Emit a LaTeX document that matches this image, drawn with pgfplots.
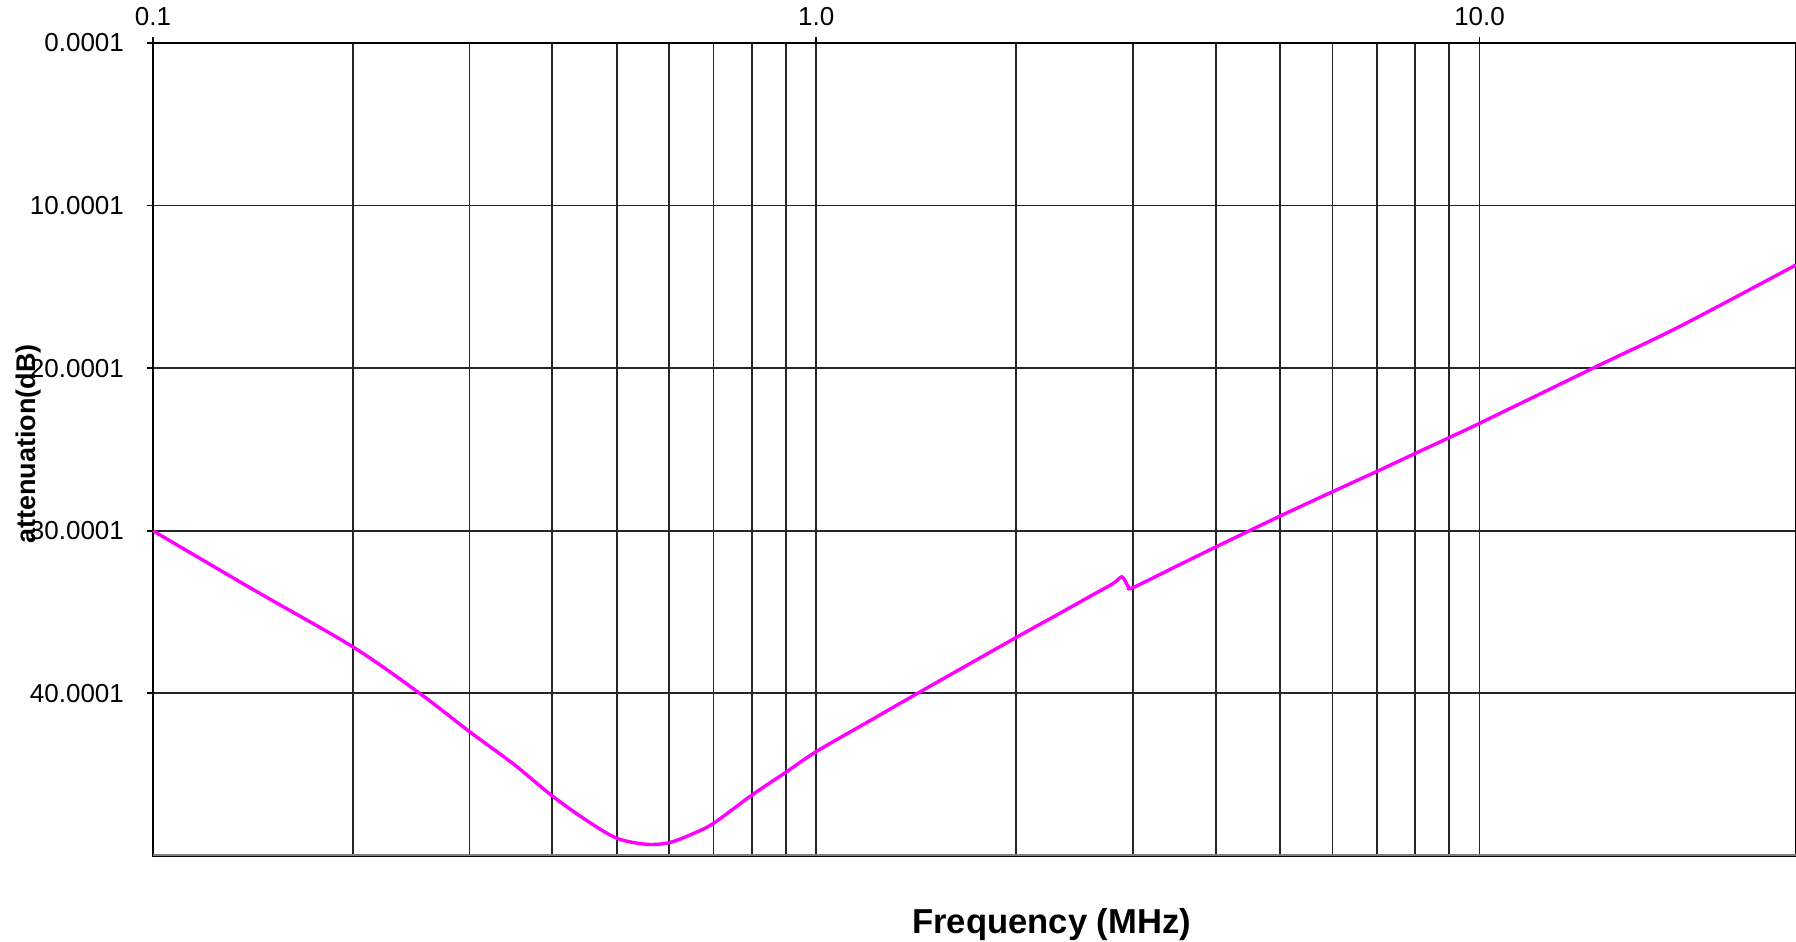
\documentclass[border=0pt]{standalone}
\usepackage{fontspec}
\setmainfont{Liberation Sans}
\usepackage{pgfplots}
\pgfplotsset{compat=1.18}

\begin{document}
\begin{tikzpicture}
\begin{axis}[
    scale only axis,
    width=821.5pt,
    height=406.5pt,
    xmode=log,
    xmin=0.1, xmax=30,
    ymin=0, ymax=50,
    y dir=reverse,
    xtick={0.1,1,10},
    xticklabels={0.1,1.0,10.0},
    ytick={0,10,20,30,40},
    yticklabels={0.0001,10.0001,20.0001,30.0001,40.0001},
    xtick pos=upper,
    xticklabel pos=upper,
    ytick pos=left,
    tick align=outside,
    major tick length=3pt,
    minor tick length=0pt,
    tick style={black, line width=0.9pt},
    grid=both,
    major grid style={black!85, line width=0.9pt},
    minor grid style={black!85, line width=0.9pt},
    minor y tick num=0,
    axis line style={black, line width=1.1pt},
    /pgf/number format/assume math mode=true,
    ticklabel style={font=\fontsize{13}{15}\selectfont},
    xticklabel style={yshift=2pt},
    yticklabel style={xshift=-8pt},
    xlabel={Frequency (MHz)},
    ylabel={attenuation(dB)},
    xlabel style={font=\fontsize{17.3}{20}\selectfont\bfseries,
        at={(axis description cs:0.547,-0.0959)}, anchor=base},
    ylabel style={font=\fontsize{13.5}{16}\selectfont\bfseries,
        at={(axis description cs:-0.0755,0.507)}, anchor=center},
]
% attenuation curve
\addplot[color={rgb,255:red,255;green,0;blue,255}, line width=1.7pt, smooth, tension=0.5] coordinates {
  (0.1,30.0)
  (0.1414,33.6)
  (0.2,37.13)
  (0.2525,40.0)
  (0.3,42.35)
  (0.35,44.36)
  (0.4,46.31)
  (0.45,47.8)
  (0.5,48.9)
  (0.554,49.28)
  (0.6,49.18)
  (0.65,48.65)
  (0.7,47.99)
  (0.8,46.25)
  (0.9,44.85)
  (1.0,43.58)
  (1.2,41.72)
  (1.4209,40.0)
  (2.0,36.57)
  (2.3,35.2)
  (2.6,33.98)
  (2.8,33.25)
  (2.887,32.83)
  (2.921,33.08)
  (2.954,33.43)
  (3.0,33.5)
  (3.5,32.16)
  (4.0,31.0)
  (5.0,29.1)
  (6.0,27.6)
  (7.0,26.35)
  (8.0,25.24)
  (9.0,24.27)
  (10.0,23.39)
  (15.0,19.9)
  (20.0,17.45)
  (30.0,13.65)
};
\draw[gray, line width=1.6pt] (rel axis cs:0,0) -- (rel axis cs:1,0);
\end{axis}
\pgfresetboundingbox
\path[use as bounding box] ([xshift=-76.5pt,yshift=-43pt]current axis.south west)
    rectangle ([yshift=21.5pt]current axis.north east);
\end{tikzpicture}
\end{document}
